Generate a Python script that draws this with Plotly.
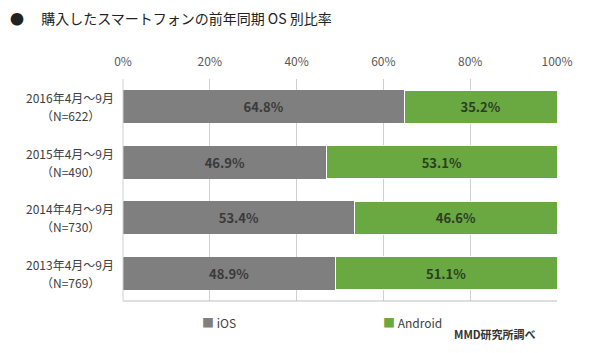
import plotly.graph_objects as go

periods = ["2016年4月～9月", "2015年4月～9月", "2014年4月～9月", "2013年4月～9月"]
samples = ["（N=622）", "（N=490）", "（N=730）", "（N=769）"]
ios = [64.8, 46.9, 53.4, 48.9]
android = [35.2, 53.1, 46.6, 51.1]
tick_vals = [0, 20, 40, 60, 80, 100]
tick_text = ["0%", "20%", "40%", "60%", "80%", "100%"]

FONT = "Noto Sans CJK JP"
GRAY = "#7f7f7f"
GREEN = "#6aa842"

fig = go.Figure()
fig.add_trace(go.Bar(y=periods, x=ios, orientation="h", name="iOS",
                     marker=dict(color=GRAY, line=dict(width=0)),
                     text=[f"{v:.1f}%" for v in ios], textposition="inside",
                     insidetextanchor="middle",
                     textfont=dict(family=FONT, size=13, color="#3a3a3a", weight=600)))
fig.add_trace(go.Bar(y=periods, x=android, orientation="h", name="Android",
                     marker=dict(color=GREEN, line=dict(color="white", width=1)),
                     text=[f"{v:.1f}%" for v in android], textposition="inside",
                     insidetextanchor="middle",
                     textfont=dict(family=FONT, size=13, color="#2c3d25", weight=600)))

for p, s in zip(periods, samples):
    fig.add_annotation(x=-0.122, xref="paper", y=p, yref="y", text=p, yshift=9,
                       showarrow=False, align="center", xanchor="center",
                       font=dict(family=FONT, size=12, color="#404040"))
    fig.add_annotation(x=-0.122, xref="paper", y=p, yref="y", text=s, yshift=-9,
                       showarrow=False, align="center", xanchor="center",
                       font=dict(family=FONT, size=12, color="#404040"))

fig.add_annotation(text="●　 購入したスマートフォンの前年同期 OS 別比率",
                   x=-123/434 + 8/434, xref="paper", xanchor="left",
                   y=1 + (79-18)/222, yref="paper", yanchor="middle",
                   showarrow=False, font=dict(family=FONT, size=14, color="#222"))

fig.add_annotation(text=f"<span style='color:{GRAY}'>■</span> iOS",
                   x=(200-123)/434, xref="paper", xanchor="left",
                   y=-(322-301)/222, yref="paper", yanchor="middle",
                   showarrow=False, font=dict(family=FONT, size=12, color="#404040"))
fig.add_annotation(text=f"<span style='color:{GREEN}'>■</span> Android",
                   x=(381-123)/434, xref="paper", xanchor="left",
                   y=-(322-301)/222, yref="paper", yanchor="middle",
                   showarrow=False, font=dict(family=FONT, size=12, color="#404040"))
fig.add_annotation(text="<b>MMD研究所調べ</b>",
                   x=(452-123)/434, xref="paper", xanchor="left",
                   y=-(334-301)/222, yref="paper", yanchor="middle",
                   showarrow=False, font=dict(family=FONT, size=11, color="#333"))

fig.update_layout(
    barmode="stack", bargap=0.4, showlegend=False,
    width=593, height=353, margin=dict(l=123, r=36, t=79, b=52),
    paper_bgcolor="white", plot_bgcolor="white",
    xaxis=dict(range=[0, 100], side="top", tickvals=tick_vals, ticktext=tick_text,
               showgrid=True, gridcolor="#d0d0d0", gridwidth=1, zeroline=False,
               showline=False, ticks="", ticklabelstandoff=10,
               tickfont=dict(family=FONT, size=12, color="#595959")),
    yaxis=dict(autorange="reversed", showticklabels=False, showgrid=False,
               showline=False, zeroline=False, ticks=""),
    shapes=[dict(type="line", xref="paper", yref="paper", x0=0, x1=1, y0=0, y1=0,
                 line=dict(color="#bfbfbf", width=1)),
            dict(type="line", xref="paper", yref="paper", x0=0, x1=0, y0=0, y1=1,
                 line=dict(color="#d0d0d0", width=1))],
)

fig.write_html("out.html")
